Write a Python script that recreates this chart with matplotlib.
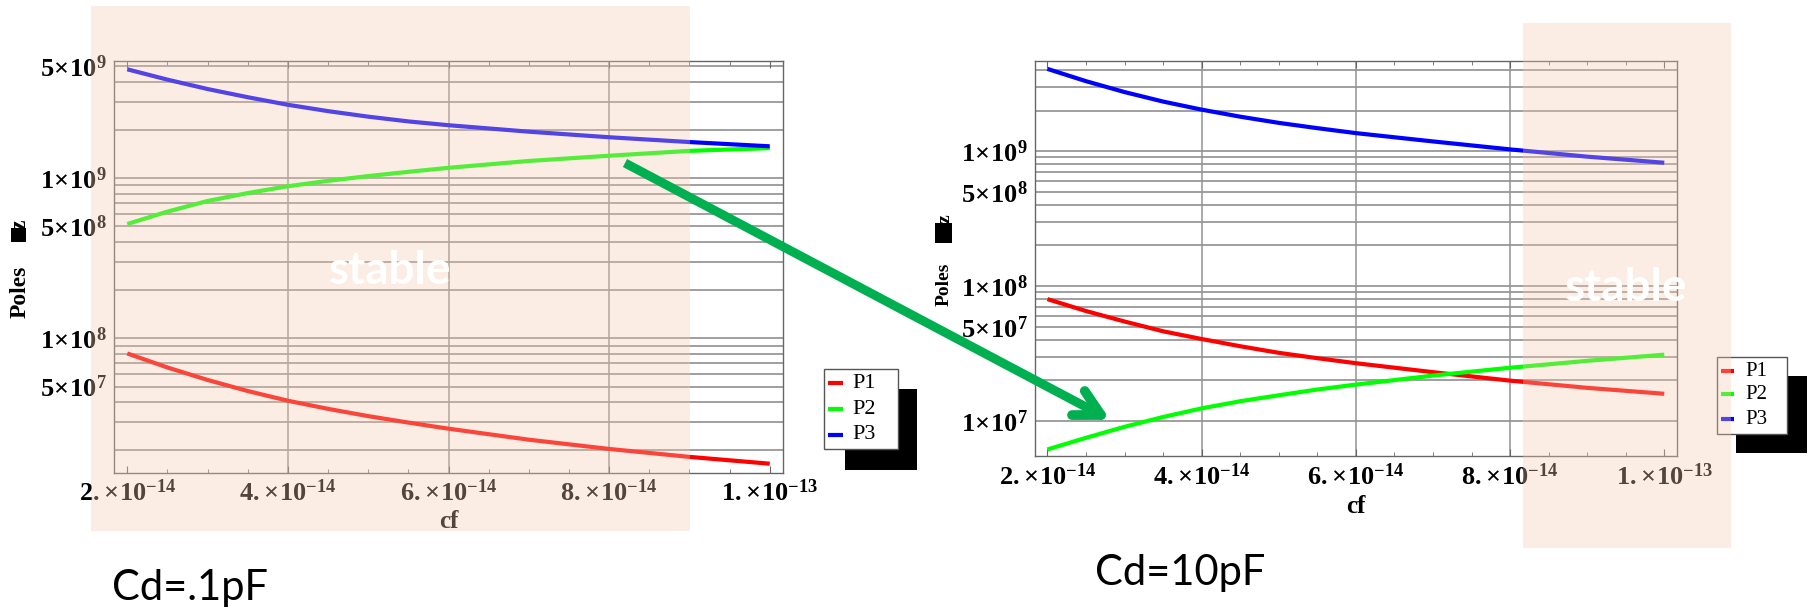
import matplotlib
matplotlib.use("Agg")
import matplotlib.pyplot as plt
from matplotlib.patches import Rectangle
from matplotlib.lines import Line2D
import numpy as np

# ---------------- data ----------------
cf = [2.0e-14, 2.5e-14, 3.0e-14, 3.5e-14, 4.0e-14, 4.5e-14, 5.0e-14, 5.5e-14,
      6.0e-14, 7.0e-14, 8.0e-14, 9.0e-14, 1.0e-13]

# Cd = 0.1 pF (left)
p1_left = [8.05e7, 6.58e7, 5.5e7, 4.69e7, 4.08e7, 3.63e7, 3.27e7, 2.98e7, 2.73e7,
           2.33e7, 2.04e7, 1.82e7, 1.65e7]
p2_left = [5.17e8, 6.18e8, 7.2e8, 8.07e8, 8.9e8, 9.62e8, 1.03e9, 1.095e9, 1.16e9,
           1.28e9, 1.38e9, 1.48e9, 1.54e9]
p3_left = [4.78e9, 4.12e9, 3.6e9, 3.2e9, 2.87e9, 2.62e9, 2.42e9, 2.26e9, 2.14e9,
           1.95e9, 1.80e9, 1.68e9, 1.58e9]

# Cd = 10 pF (right)
p1_right = [8.0e7, 6.53e7, 5.46e7, 4.62e7, 4.05e7, 3.58e7, 3.2e7, 2.92e7, 2.68e7,
            2.30e7, 1.99e7, 1.76e7, 1.59e7]
p2_right = [6.15e6, 7.5e6, 9.05e6, 1.07e7, 1.24e7, 1.4e7, 1.55e7, 1.71e7, 1.86e7,
            2.17e7, 2.48e7, 2.79e7, 3.1e7]
p3_right = [4.07e9, 3.3e9, 2.74e9, 2.33e9, 2.03e9, 1.8e9, 1.62e9, 1.48e9, 1.36e9,
            1.18e9, 1.03e9, 9.1e8, 8.2e8]

series_names = ["P1", "P2", "P3"]
x_major = [2e-14, 4e-14, 6e-14, 8e-14, 1e-13]
x_major_labels = [r"$2.\!\times\!10^{-14}$", r"$4.\!\times\!10^{-14}$", r"$6.\!\times\!10^{-14}$",
                  r"$8.\!\times\!10^{-14}$", r"$1.\!\times\!10^{-13}$"]
y_left_ticks = [5e9, 1e9, 5e8, 1e8, 5e7]
y_left_labels = [r"$5\!\times\!10^{9}$", r"$1\!\times\!10^{9}$", r"$5\!\times\!10^{8}$",
                 r"$1\!\times\!10^{8}$", r"$5\!\times\!10^{7}$"]
y_right_ticks = [1e9, 5e8, 1e8, 5e7, 1e7]
y_right_labels = [r"$1\!\times\!10^{9}$", r"$5\!\times\!10^{8}$", r"$1\!\times\!10^{8}$",
                  r"$5\!\times\!10^{7}$", r"$1\!\times\!10^{7}$"]
panel_titles = ["Cd=.1pF", "Cd=10pF"]

# ---------------- style ----------------
plt.rcParams["mathtext.fontset"] = "custom"
plt.rcParams["mathtext.rm"] = "Liberation Serif:bold"
plt.rcParams["mathtext.bf"] = "Liberation Serif:bold"
plt.rcParams["mathtext.it"] = "Liberation Serif:bold:italic"
plt.rcParams["mathtext.default"] = "rm"
plt.rcParams["font.family"] = ["Liberation Serif", "DejaVu Sans"]

W, H = 1814, 611
fig = plt.figure(figsize=(W / 100, H / 100), dpi=100)


def fbox(l, t, r, b):
    return [l / W, 1 - b / H, (r - l) / W, (b - t) / H]


def fx(x):
    return x / W


def fy(y):
    return 1 - y / H


colors = [(1, 0, 0), (0, 1, 0), (0, 0, 1)]
grid_c = "#939393"
grid_y = [m * 10.0 ** e for e in (7, 8, 9) for m in range(1, 10)]
grid_x = [4e-14, 6e-14, 8e-14]
x_minor = [2.5e-14, 3e-14, 3.5e-14, 4.5e-14, 5e-14, 5.5e-14, 6.5e-14, 7e-14, 7.5e-14,
           8.5e-14, 9e-14, 9.5e-14]


def make_panel(box, series, ylim, yticks, ylabels):
    ax = fig.add_axes(fbox(*box))
    ax.set_yscale("log")
    ax.set_xlim(1.835e-14, 1.0165e-13)
    ax.set_ylim(*ylim)
    for v in grid_y:
        ax.axhline(v, color=grid_c, lw=1.25, zorder=0.5)
    for v in grid_x:
        ax.axvline(v, color=grid_c, lw=1.1, zorder=0.5)
    for vals, c in zip(series, colors):
        ax.plot(cf, vals, color=c, lw=3.0, zorder=2, solid_capstyle="butt",
                solid_joinstyle="round")
    ax.set_xticks(x_major)
    ax.set_xticklabels(x_major_labels, fontsize=19)
    ax.set_xticks(x_minor, minor=True)
    ax.set_yticks(yticks)
    ax.set_yticklabels(ylabels, fontsize=19)
    ax.set_yticks([], minor=True)
    ax.tick_params(axis="y", which="both", length=0, pad=5)
    ax.tick_params(axis="x", which="major", direction="in", top=True, length=5,
                   pad=5, color="#666666")
    ax.tick_params(axis="x", which="minor", direction="in", top=True, length=3,
                   color="#666666")
    for s in ax.spines.values():
        s.set_color("#666666")
        s.set_linewidth(1.0)
    return ax


axL = make_panel((114, 61.2, 783, 472.7), [p1_left, p2_left, p3_left],
                 (1.45e7, 5.37e9), y_left_ticks, y_left_labels)
axR = make_panel((1034.7, 61.2, 1677, 456), [p1_right, p2_right, p3_right],
                 (5.5e6, 4.64e9), y_right_ticks, y_right_labels)

# x-axis labels
fig.text(fx(448.5), fy(521), "cf", fontsize=18, fontweight="bold",
         ha="center", va="center")
fig.text(fx(1356), fy(506.5), "cf", fontsize=18, fontweight="bold",
         ha="center", va="center")

# y-axis labels ("Poles [Hz]" rendered with a black box as in the source)
for (xc, yc, fs, bx0, by0, bx1, by1, zy) in [
        (20.5, 291.5, 17, 11, 228, 26, 242, 225),
        (943.8, 284.5, 14, 935, 223, 951.7, 243, 219)]:
    fig.text(fx(xc), fy(yc), "Poles", fontsize=fs, fontweight="bold",
             rotation=90, ha="center", va="center")
    fig.add_artist(Rectangle((fx(bx0), fy(by1)), (bx1 - bx0) / W, (by1 - by0) / H,
                             transform=fig.transFigure, facecolor="black",
                             edgecolor="none", zorder=3))
    fig.text(fx((bx0 + bx1) / 2 + 2), fy(zy), "z", fontsize=fs, fontweight="bold",
             rotation=90, ha="center", va="center", zorder=4)


# legends
def legend(box, shadow, line_x, ys, text_x, fs):
    l, t, r, b = shadow
    fig.add_artist(Rectangle((fx(l), fy(b)), (r - l) / W, (b - t) / H,
                             transform=fig.transFigure, facecolor="black",
                             edgecolor="none", zorder=2))
    l, t, r, b = box
    fig.add_artist(Rectangle((fx(l), fy(b)), (r - l) / W, (b - t) / H,
                             transform=fig.transFigure, facecolor="white",
                             edgecolor="#555555", lw=1.0, zorder=3))
    for name, c, y in zip(series_names, colors, ys):
        fig.add_artist(Line2D([fx(line_x[0]), fx(line_x[1])], [fy(y), fy(y)],
                              transform=fig.transFigure, color=c, lw=3,
                              solid_capstyle="butt", zorder=4))
        fig.text(fx(text_x), fy(y), name, fontsize=fs, ha="left", va="center",
                 zorder=4)


legend((824.3, 369.3, 897.7, 449.3), (845, 389, 917, 469.7), (828, 842.7),
       (383.3, 409.3, 434.7), 852.7, 16)
legend((1716.7, 356.7, 1787.3, 434), (1736, 376, 1806.7, 453.3), (1720.7, 1734),
       (371, 394.3, 419.3), 1745, 15)

# "stable" overlays (semi-transparent peach regions)
peach = (0.96, 0.80, 0.68)
for (l, t, r, b) in [(91, 5.8, 690, 531), (1522.6, 22.6, 1730.7, 547.5)]:
    fig.add_artist(Rectangle((fx(l), fy(b)), (r - l) / W, (b - t) / H,
                             transform=fig.transFigure, facecolor=peach,
                             alpha=0.34, edgecolor="none", zorder=10))

for (xc, yc) in [(390, 271), (1625.7, 288.4)]:
    fig.text(fx(xc), fy(yc), "stable", fontsize=33, fontweight="bold",
             family="Lato", color="white", ha="center", va="center", zorder=20)

# panel captions
fig.text(fx(112), fy(600), panel_titles[0], fontsize=30, family="Lato",
         ha="left", va="baseline", zorder=20)
fig.text(fx(1095), fy(585), panel_titles[1], fontsize=30, family="Lato",
         ha="left", va="baseline", zorder=20)

# green arrow
arrow_c = "#00B050"
sx, sy = 625, 163
tx, ty = 1101, 415
fig.add_artist(Line2D([fx(sx), fx(tx)], [fy(sy), fy(ty)], transform=fig.transFigure,
                      color=arrow_c, lw=6.5, solid_capstyle="butt", zorder=21))
ang = np.arctan2(ty - sy, tx - sx)
for d in (np.radians(28), -np.radians(28)):
    a = ang + np.pi + d
    ex, ey = tx + 29 * np.cos(a), ty + 29 * np.sin(a)
    fig.add_artist(Line2D([fx(tx), fx(ex)], [fy(ty), fy(ey)], transform=fig.transFigure,
                          color=arrow_c, lw=7, solid_capstyle="round", zorder=21))

fig.savefig("out.png", dpi=100)
